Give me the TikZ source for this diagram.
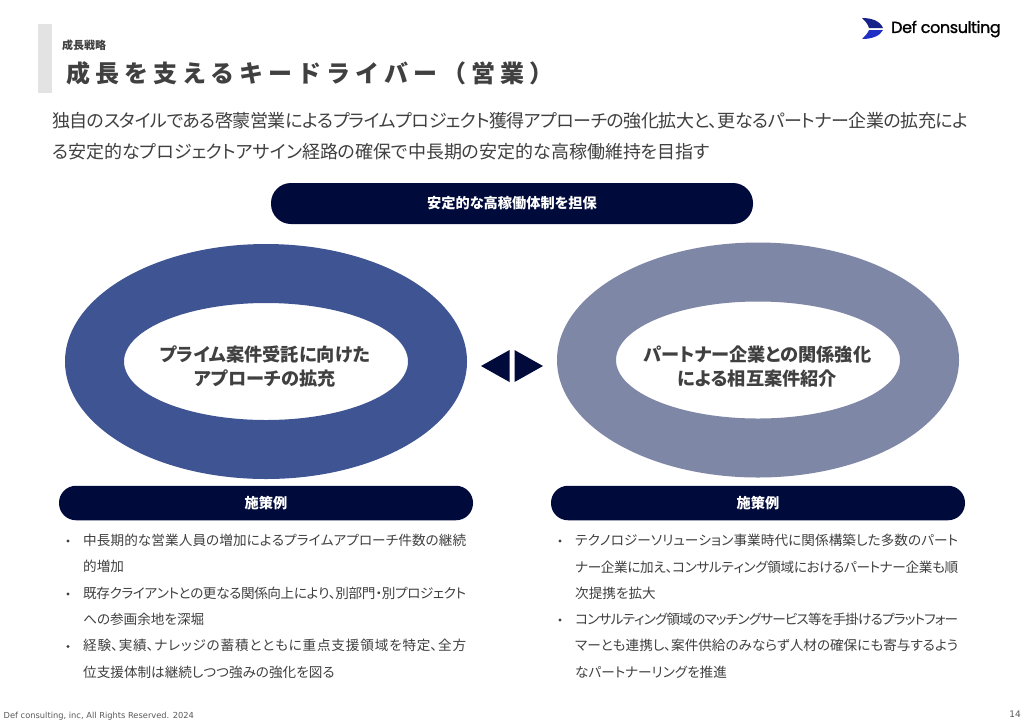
\documentclass[tikz,border=0pt]{standalone}
\usepackage{fontspec}
\setmainfont{Noto Sans CJK JP}[RawFeature=+palt]
\newfontfamily\logofont{Poppins}[FakeBold=1.2,LetterSpace=-2.5]
\newfontfamily\footfont{DejaVu Sans}
\newfontfamily\titlefont{Noto Sans CJK JP}[LetterSpace=21]
\XeTeXlinebreaklocale "ja"
\XeTeXlinebreakskip=0pt plus 3pt minus 1.5pt
\definecolor{navy}{HTML}{000B3C}
\definecolor{ringleft}{HTML}{3F5492}
\definecolor{ringright}{HTML}{7F87A7}
\definecolor{inktext}{HTML}{404040}
\definecolor{logoblue}{HTML}{1F2FC4}
\tikzset{
  pill/.style={fill=navy,rounded corners=17pt,inner sep=0pt,text=white,font=\fontsize{14.2}{14.2}\selectfont\bfseries},
  ringtext/.style={align=center,text=inktext,font=\fontsize{18.2}{24}\selectfont\bfseries},
  bullets/.style={anchor=north west,align=justify,text width=383pt,inner sep=0pt,text=inktext,font=\fontsize{13.6}{26.3}\selectfont},
  dot/.style={circle,fill=inktext,inner sep=0pt,minimum size=3.4pt}
}
\begin{document}
\begin{tikzpicture}[x=1pt,y=-1pt]
  \useasboundingbox (0,0) rectangle (1024,724);
  \fill[white] (0,0) rectangle (1024,724);
  \fill[black!11] (38,24) rectangle (52,93);
  \node[anchor=west,inner sep=0pt,text=inktext,font=\fontsize{11}{11}\selectfont\bfseries] (chapter) at (62,45) {成長戦略};
  \node[anchor=west,inner sep=0pt,text=inktext,font=\titlefont\fontsize{24}{24}\selectfont\bfseries] (title) at (66,73.5) {成長を支えるキードライバー（営業）};
  \node[anchor=north west,align=justify,text width=916pt,inner sep=0pt,text=inktext,font=\fontsize{18}{31}\selectfont] (lead) at (52,112.5) {独自のスタイルである啓蒙営業によるプライムプロジェクト獲得アプローチの強化拡大と、更なるパートナー企業の拡充によ\linebreak る安定的なプロジェクトアサイン経路の確保で中長期の安定的な高稼働維持を目指す};
  % logo
  \fill[logoblue!70!black] (862,18) .. controls (872,18) and (880,21) .. (883,28) -- (869,28) .. controls (868,24) and (865,21) .. (862,18);
  \fill[logoblue] (862,39) .. controls (872,39) and (880,36) .. (883,30) -- (869,30) .. controls (868,33) and (865,36) .. (862,39);
  \node[anchor=west,inner sep=0pt,text=black,font=\logofont\fontsize{16}{16}\selectfont] (logo) at (891,29) {Def consulting};
  \node[pill,minimum width=482pt,minimum height=41pt,rounded corners=20pt] (top) at (512,203.5) {安定的な高稼働体制を担保};
  \fill[ringleft,even odd rule] (266,361.5) ellipse (201 and 117.5) (266,361.5) ellipse (142 and 58.5);
  \fill[ringright,even odd rule] (758,360) ellipse (201 and 117.5) (758,360) ellipse (142 and 58.5);
  \node[ringtext] (prime) at (265,367) {プライム案件受託に向けた\\アプローチの拡充};
  \node[ringtext] (partner) at (757.5,367) {パートナー企業との関係強化\\による相互案件紹介};
  \fill[navy] (481,366) -- (509.5,350) -- (509.5,382) -- cycle;
  \fill[navy] (543,366) -- (514.5,350) -- (514.5,382) -- cycle;
  \node[pill,minimum width=414pt,minimum height=34.5pt] (caseleft) at (266,503) {施策例};
  \node[pill,minimum width=414pt,minimum height=34.5pt] (caseright) at (758,503) {施策例};
  \node[bullets] (listleft) at (83,534) {中長期的な営業人員の増加によるプライムアプローチ件数の継続\linebreak 的増加\\既存クライアントとの更なる関係向上により、別部門・別プロジェクト\linebreak への参画余地を深堀\\経験、実績、ナレッジの蓄積とともに重点支援領域を特定、全方\linebreak 位支援体制は継続しつつ強みの強化を図る};
  \node[bullets] (listright) at (575,534) {テクノロジーソリューション事業時代に関係構築した多数のパート\linebreak ナー企業に加え、コンサルティング領域におけるパートナー企業も順\linebreak 次提携を拡大\\コンサルティング領域のマッチングサービス等を手掛けるプラットフォー\linebreak マーとも連携し、案件供給のみならず人材の確保にも寄与するよう\linebreak なパートナーリングを推進};
  \node[dot] (d1) at (68,541) {};
  \node[dot] (d2) at (68,594) {};
  \node[dot] (d3) at (68,646.5) {};
  \node[dot] (d4) at (560,541) {};
  \node[dot] (d5) at (560,620) {};
  \node[anchor=west,inner sep=0pt,text=black!65,font=\footfont\fontsize{8.3}{8.3}\selectfont] (copyright) at (3.5,716) {Def consulting, inc, All Rights Reserved. 2024};
  \node[anchor=east,inner sep=0pt,text=black!65,font=\footfont\fontsize{9}{9}\selectfont] (page) at (1021,714.5) {14};
\end{tikzpicture}
\end{document}
